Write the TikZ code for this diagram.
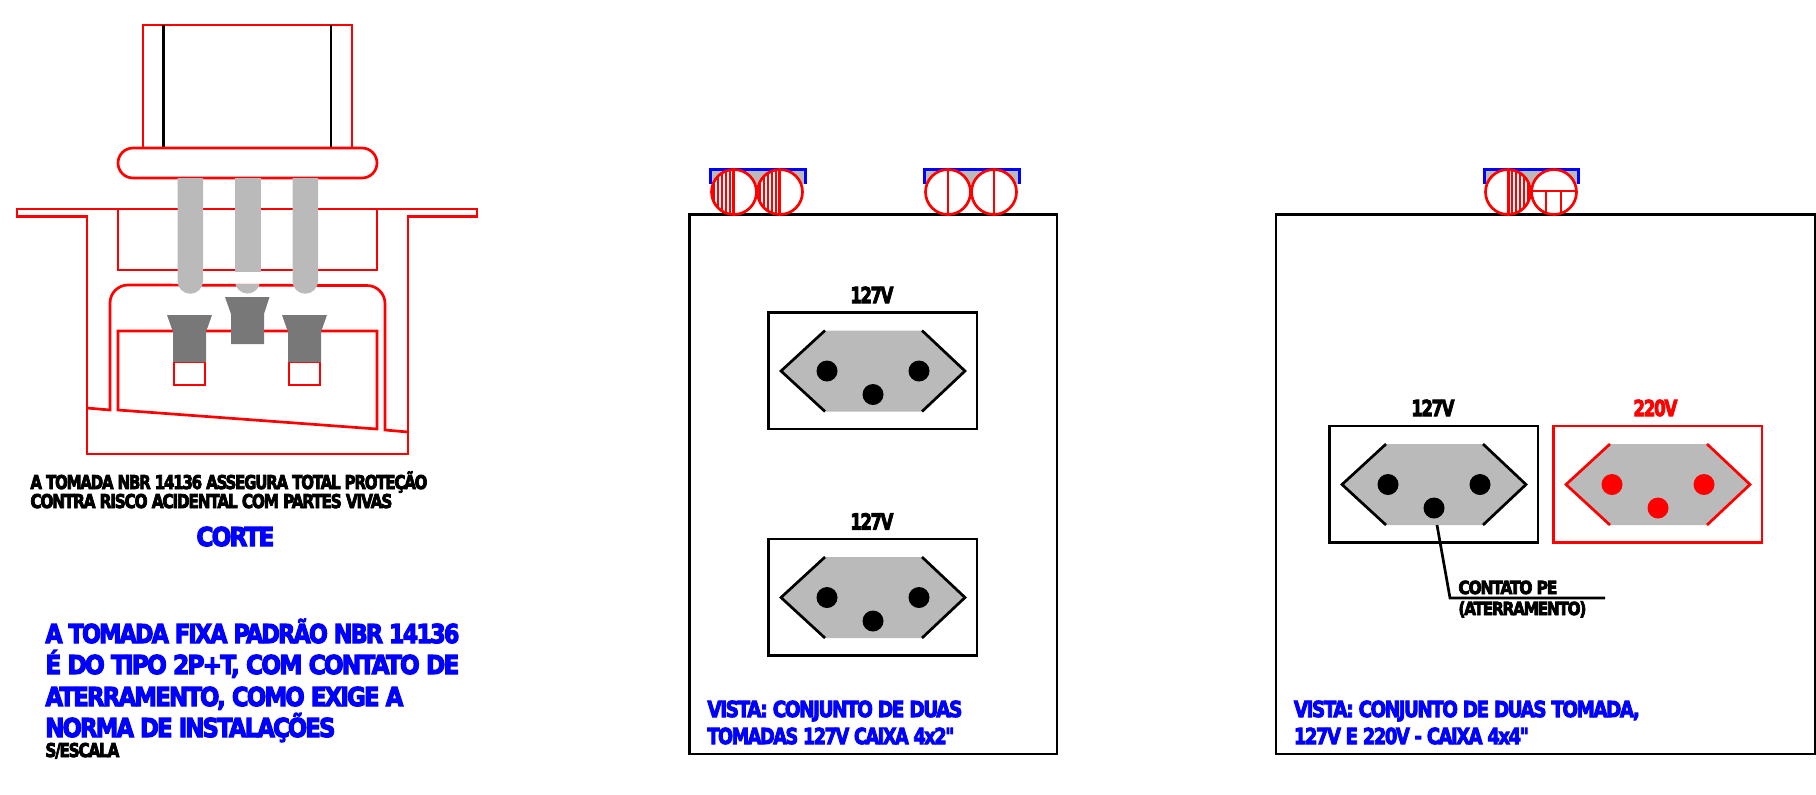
\documentclass[tikz,border=0pt]{standalone}
\usepackage{graphicx}
\usepackage{fontspec}
\newfontfamily\tf[FakeBold=4.5,LetterSpace=-8]{DejaVu Sans Bold}
\definecolor{rd}{RGB}{255,0,0}
\definecolor{bl}{RGB}{0,0,255}
\definecolor{gr}{RGB}{186,186,186}
\definecolor{dk}{RGB}{120,120,120}
\newlength\tw
\newcommand\tx[7]{\tw=#5pt \tw=0.5\tw
  \node[anchor=base west,inner sep=0pt,text=#2] (#1) at (#3,#4) {\resizebox{\tw}{\height}{\fontsize{#6}{#6}\selectfont\tf #7}};}
\newcommand\outlet[3]{%
 \begin{scope}[shift={(#1,#2)}]
  \draw[wire,draw=#3] (768.5,312.5) rectangle (977,429);
  \fill[gr] (781,371) -- (825,330.5) -- (922,330.5) -- (965,371) -- (922,411.5) -- (825,411.5) -- cycle;
  \draw[wire,draw=#3] (825,330.5) -- (781,371) -- (825,411.5);
  \draw[wire,draw=#3] (922,330.5) -- (965,371) -- (922,411.5);
  \fill[#3] (827,371) circle[radius=10.5];
  \fill[#3] (919,371) circle[radius=10.5];
  \fill[#3] (873,394.5) circle[radius=10.5];
 \end{scope}}
\newcommand\plate[2]{%
  \fill[gr] (#1,184) -- (#1,169) -- (#2,169) -- (#2,184) -- cycle;
  \draw[bluewire] (#1,184) -- (#1,169) -- (#2,169) -- (#2,184);}
\newcommand\swh[2]{%
  \begin{scope}
   \fill[white] (#1,192) circle[radius=22.5];
   \clip (#1,192) circle[radius=22.5];
   \foreach \o in {#2} \draw[line width=0.9pt,draw=rd] (#1+\o,169) -- (#1+\o,215);
  \end{scope}
  \draw[wire,draw=rd] (#1,192) circle[radius=22.5];}
\tikzset{
  wire/.style={line width=1.35pt,line join=miter},
  bluewire/.style={line width=1.5pt,draw=bl},
  redwire/.style={wire,draw=rd},
  blackwire/.style={wire,draw=black},
}
\begin{document}
\begin{tikzpicture}[x=0.5pt,y=-0.5pt]
\useasboundingbox (0,0) rectangle (1816,794);
% ---------- section ----------
\draw[redwire] (143,148) -- (143,25) -- (352,25) -- (352,148);
\draw[blackwire] (163.5,25) -- (163.5,148);
\draw[blackwire] (331,25) -- (331,148);
\draw[redwire,rounded corners=7.5pt] (118,148) rectangle (377,178);
\draw[redwire] (17,209) -- (477,209) -- (477,216.5) -- (408,216.5) -- (408,454) -- (87,454) -- (87,216.5) -- (17,216.5) -- cycle;
\draw[redwire] (118,209) -- (118,270) -- (377,270) -- (377,209);
\draw[redwire] (87,408) -- (110,410) -- (110,303) arc[start angle=180,end angle=270,radius=18] -- (367,285.5) arc[start angle=270,end angle=360,radius=18] -- (385,430) -- (408,432);
\draw[redwire] (118,331) -- (118,410) -- (377,429) -- (377,331) -- cycle;
\draw[redwire] (174,362) rectangle (205,385);
\draw[redwire] (289,362) rectangle (320,385);
% prongs
\fill[gr] (177.5,178) -- (203,178) -- (203,281) arc[start angle=0,end angle=180,radius=12.75] -- cycle;
\fill[gr] (292.5,178) -- (318,178) -- (318,281) arc[start angle=0,end angle=180,radius=12.75] -- cycle;
\fill[gr] (234.5,178) rectangle (260.5,272);
\begin{scope}
 \clip (230,284) rectangle (265,300);
 \fill[gr] (247.5,281) circle[radius=12.5];
\end{scope}
% contacts
\fill[dk] (167,315) -- (212,315) -- (206,332) -- (206,362) -- (173,362) -- (173,332) -- cycle;
\fill[dk] (225,297) -- (269.5,297) -- (264,314) -- (264,344) -- (231,344) -- (231,314) -- cycle;
\fill[dk] (282,315) -- (327,315) -- (321,332) -- (321,362) -- (288,362) -- (288,332) -- cycle;
% ---------- views ----------
\draw[blackwire] (689.5,214.5) rectangle (1057,754);
\draw[blackwire] (1276,214.5) rectangle (1815,754);
\outlet{0}{0}{black}
\outlet{0}{226.5}{black}
\outlet{561}{113.5}{black}
\outlet{785}{113.5}{rd}
% switches
\plate{710}{805}
\swh{734}{-20,-16,-12,-8,-4,-1.5,0}
\swh{780}{-20,-16,-12,-8,-4,-1.5,0}
\plate{924}{1019}
\swh{948}{0}
\swh{994}{0}
\plate{1484}{1578}
\swh{1508}{0,1.5,4,8,12,16,20}
\swh{1554}{}
\begin{scope}
 \clip (1554,192) circle[radius=22.5];
 \draw[redwire] (1530,191) -- (1578,191);
 \draw[redwire] (1546,191) -- (1546,215);
 \draw[redwire] (1561,191) -- (1561,215);
\end{scope}
% leader
\coordinate (pe) at (1437,525);
\coordinate (bend) at (1450,598);
\coordinate (end) at (1605,598);
\draw[blackwire] (pe) -- (bend) -- (end);
% ---------- texts ----------
\tx{t1}{black}{30}{489}{397}{9.5}{A TOMADA NBR 14136 ASSEGURA TOTAL PROTEÇÃO}
\tx{t2}{black}{30}{508}{362}{9.5}{CONTRA RISCO ACIDENTAL COM PARTES VIVAS}
\tx{t3}{bl}{196}{546}{78}{13}{CORTE}
\tx{t4}{bl}{45}{643}{414}{13}{A TOMADA FIXA PADRÃO NBR 14136}
\tx{t5}{bl}{45}{674}{414}{13}{É DO TIPO 2P+T, COM CONTATO DE}
\tx{t6}{bl}{45}{706}{358}{13}{ATERRAMENTO, COMO EXIGE A}
\tx{t7}{bl}{45}{737}{290}{13}{NORMA DE INSTALAÇÕES}
\tx{t8}{black}{45}{757}{74}{9.5}{S/ESCALA}
\tx{t9}{bl}{707}{717}{255}{11}{VISTA: CONJUNTO DE DUAS}
\tx{t10}{bl}{707}{744}{247}{11}{TOMADAS 127V CAIXA 4x2"}
\tx{t11}{bl}{1293.5}{717}{346}{11}{VISTA: CONJUNTO DE DUAS TOMADA,}
\tx{t12}{bl}{1293.5}{744}{235}{11}{127V E 220V - CAIXA 4x4"}
\tx{t13}{black}{850}{303}{43}{11}{127V}
\tx{t14}{black}{850}{529.5}{43}{11}{127V}
\tx{t15}{black}{1411}{416}{43}{11}{127V}
\tx{t16}{rd}{1633}{416}{44}{11}{220V}
\tx{t17}{black}{1458}{594}{99}{9}{CONTATO PE}
\tx{t18}{black}{1458}{615}{128}{9}{(ATERRAMENTO)}
\end{tikzpicture}
\end{document}
